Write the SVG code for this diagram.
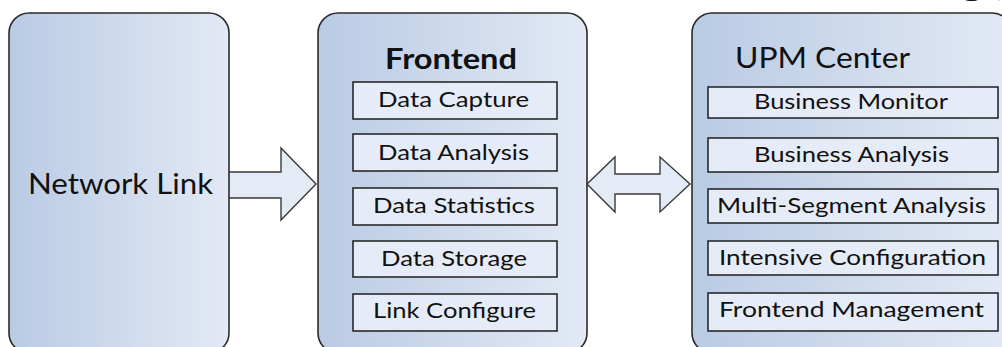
<svg xmlns="http://www.w3.org/2000/svg" width="1002" height="347" viewBox="0 0 1002 347">
<defs>
<linearGradient id="bg" x1="0" y1="0" x2="1" y2="0">
<stop offset="0" stop-color="#b9cbe4"/>
<stop offset="1" stop-color="#e3e9f5"/>
</linearGradient>
<style>
.big{fill:url(#bg);stroke:#2b2b2b;stroke-width:1.6}
.sub{fill:#e6ecf7;stroke:#1e1e1e;stroke-width:1.5}
.arrow{fill:#e4ebf6;stroke:#3a3a3a;stroke-width:1.4;stroke-linejoin:miter}
text{font-family:Lato,"Liberation Sans",sans-serif;fill:#111}
.t{font-size:21px}
.title{font-size:29px}
</style>
</defs>
<rect width="1002" height="347" fill="#ffffff"/>
<text x="962" y="-3" font-size="24" textLength="40" lengthAdjust="spacingAndGlyphs">g (</text>
<g id="connectors">
<path class="arrow" d="M229,172 L281,172 L281,148 L316,184 L281,220 L281,198 L229,198"/>
<path class="arrow" d="M587,184 L615,157 L615,174 L660,174 L660,157 L690,184 L660,212 L660,194 L615,194 L615,212 Z"/>
</g>
<g id="network-link">
<rect class="big" x="9" y="13" width="220" height="340" rx="20"/>
<text class="title" x="28" y="194" textLength="185" lengthAdjust="spacingAndGlyphs">Network Link</text>
</g>
<g id="frontend">
<rect class="big" x="318" y="13" width="269" height="340" rx="20"/>
<text class="title" x="385" y="69" font-weight="bold" textLength="132" lengthAdjust="spacingAndGlyphs">Frontend</text>
<rect class="sub" x="353" y="82" width="204" height="37"/>
<text class="t" x="378" y="107" textLength="151" lengthAdjust="spacingAndGlyphs">Data Capture</text>
<rect class="sub" x="353" y="134" width="204" height="37"/>
<text class="t" x="378" y="160" textLength="151" lengthAdjust="spacingAndGlyphs">Data Analysis</text>
<rect class="sub" x="353" y="188" width="204" height="37"/>
<text class="t" x="373" y="213" textLength="162" lengthAdjust="spacingAndGlyphs">Data Statistics</text>
<rect class="sub" x="353" y="241" width="204" height="36"/>
<text class="t" x="381" y="266" textLength="146" lengthAdjust="spacingAndGlyphs">Data Storage</text>
<rect class="sub" x="353" y="294" width="204" height="37"/>
<text class="t" x="373" y="318" textLength="163" lengthAdjust="spacingAndGlyphs">Link Configure</text>
</g>
<g id="upm-center">
<rect class="big" x="692" y="13" width="320" height="340" rx="20"/>
<text class="title" x="735" y="68" textLength="175" lengthAdjust="spacingAndGlyphs">UPM Center</text>
<rect class="sub" x="708" y="87" width="290" height="31"/>
<text class="t" x="754" y="109" textLength="194" lengthAdjust="spacingAndGlyphs">Business Monitor</text>
<rect class="sub" x="708" y="138" width="290" height="34"/>
<text class="t" x="754" y="162" textLength="195" lengthAdjust="spacingAndGlyphs">Business Analysis</text>
<rect class="sub" x="708" y="189" width="290" height="34"/>
<text class="t" x="717" y="213" textLength="269" lengthAdjust="spacingAndGlyphs">Multi-Segment Analysis</text>
<rect class="sub" x="708" y="241" width="290" height="34"/>
<text class="t" x="719" y="265" textLength="267" lengthAdjust="spacingAndGlyphs">Intensive Configuration</text>
<rect class="sub" x="708" y="293" width="290" height="38"/>
<text class="t" x="719" y="317" textLength="265" lengthAdjust="spacingAndGlyphs">Frontend Management</text>
</g>
</svg>
